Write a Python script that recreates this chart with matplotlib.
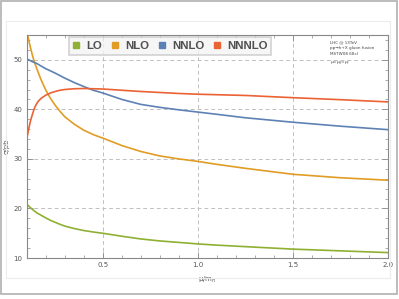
import numpy as np
import matplotlib.pyplot as plt
from matplotlib.lines import Line2D
from matplotlib.patches import Rectangle
from matplotlib.ticker import MultipleLocator

# scale ratio mu/m_h
mu = [0.1, 0.11, 0.12, 0.13, 0.14, 0.15, 0.16, 0.175, 0.2, 0.225, 0.25, 0.275, 0.3,
      0.35, 0.4, 0.45, 0.5, 0.6, 0.7, 0.8, 0.9, 1.0, 1.1, 1.25, 1.5, 1.75, 2.0]

# cross sections in pb
lo = [20.9, 20.5, 20.15, 19.8, 19.5, 19.2, 18.95, 18.65, 18.1, 17.6, 17.2, 16.8, 16.45,
      15.95, 15.55, 15.25, 15.0, 14.4, 13.85, 13.45, 13.15, 12.85, 12.6, 12.3, 11.8, 11.45, 11.1]
nlo = [56.0, 54.0, 52.4, 50.9, 49.6, 48.5, 47.5, 46.0, 43.9, 42.2, 40.8, 39.6, 38.5,
       37.0, 35.8, 34.9, 34.2, 32.7, 31.5, 30.6, 30.0, 29.5, 28.9, 28.1, 26.9, 26.2, 25.7]
nnlo = [50.2, 50.0, 49.8, 49.6, 49.45, 49.3, 49.1, 48.75, 48.2, 47.75, 47.3, 46.8, 46.3,
        45.4, 44.6, 43.85, 43.3, 42.0, 41.0, 40.4, 39.9, 39.45, 39.0, 38.3, 37.4, 36.6, 35.9]
nnnlo = [34.0, 36.0, 37.7, 39.0, 40.2, 41.0, 41.6, 42.2, 42.85, 43.3, 43.6, 43.85, 44.0,
         44.15, 44.2, 44.15, 44.1, 43.85, 43.6, 43.4, 43.2, 43.05, 42.95, 42.8, 42.35, 41.95, 41.5]

labels = ['LO', 'NLO', 'NNLO', 'NNNLO']
colors = ['#8FB032', '#E19C24', '#5E81B5', '#EB6235']
info = ['LHC @ 13TeV', 'pp\u2192h+X gluon fusion', 'MSTW08 68cl', '\u03bc=\u03bc$_R$=\u03bc$_F$']

fig = plt.figure(figsize=(3.99, 2.99), dpi=100)
ax = fig.add_axes([0.067, 0.137, 0.905, 0.746])

# frames around the picture
fig.patches.append(Rectangle((0.0015, 0.017), 0.993, 0.98, transform=fig.transFigure,
                             fill=False, edgecolor='#b0b0b0', linewidth=1.2))
fig.patches.append(Rectangle((0.016, 0.07), 0.962, 0.86, transform=fig.transFigure,
                             fill=False, edgecolor='#ececec', linewidth=0.8))

for ys, c in zip([lo, nlo, nnlo, nnnlo], colors):
    ax.plot(mu, ys, color=c, linewidth=1.2)

ax.set_xlim(0.1, 2.0)
ax.set_ylim(10, 55)
ax.xaxis.set_major_locator(MultipleLocator(0.5))
ax.xaxis.set_minor_locator(MultipleLocator(0.1))
ax.yaxis.set_major_locator(MultipleLocator(10))
ax.yaxis.set_minor_locator(MultipleLocator(2))
ax.tick_params(which='both', direction='in', top=True, right=True,
               labeltop=False, labelright=False, color='#888888',
               labelsize=5, labelcolor='#555555', pad=3)
ax.tick_params(which='major', length=4, width=0.6)
ax.tick_params(which='minor', length=2.5, width=0.5)
for s in ax.spines.values():
    s.set_color('#888888')
    s.set_linewidth(0.8)
ax.grid(True, which='major', linestyle=(0, (4, 3)), color='#c0c0c0', linewidth=0.7)

ax.set_xlabel('\u03bc/m$_h$', fontsize=5, color='#555555', labelpad=5)
ax.set_ylabel('\u03c3/pb', fontsize=5, color='#555555', labelpad=3)

handles = [Line2D([], [], marker='s', linestyle='none', markersize=5,
                  markerfacecolor=c, markeredgecolor=c) for c in colors]
leg = ax.legend(handles, labels, ncol=4, loc='upper left', bbox_to_anchor=(0.117, 0.99),
                prop={'family': 'Liberation Sans', 'weight': 'bold', 'size': 8.2},
                handlelength=0.6, handletextpad=0.6, columnspacing=0.8,
                frameon=True, fancybox=False, borderpad=0.35, borderaxespad=0)
leg.get_frame().set_facecolor('#f4f4f4')
leg.get_frame().set_edgecolor('#c8c8c8')
leg.get_frame().set_linewidth(1.2)
for t in leg.get_texts():
    t.set_color('#505050')

ax.text(0.84, 0.975, '\n'.join(info), transform=ax.transAxes, fontsize=3,
        color='#444444', va='top', ha='left', linespacing=1.6)

fig.savefig('out.png', dpi=100)
